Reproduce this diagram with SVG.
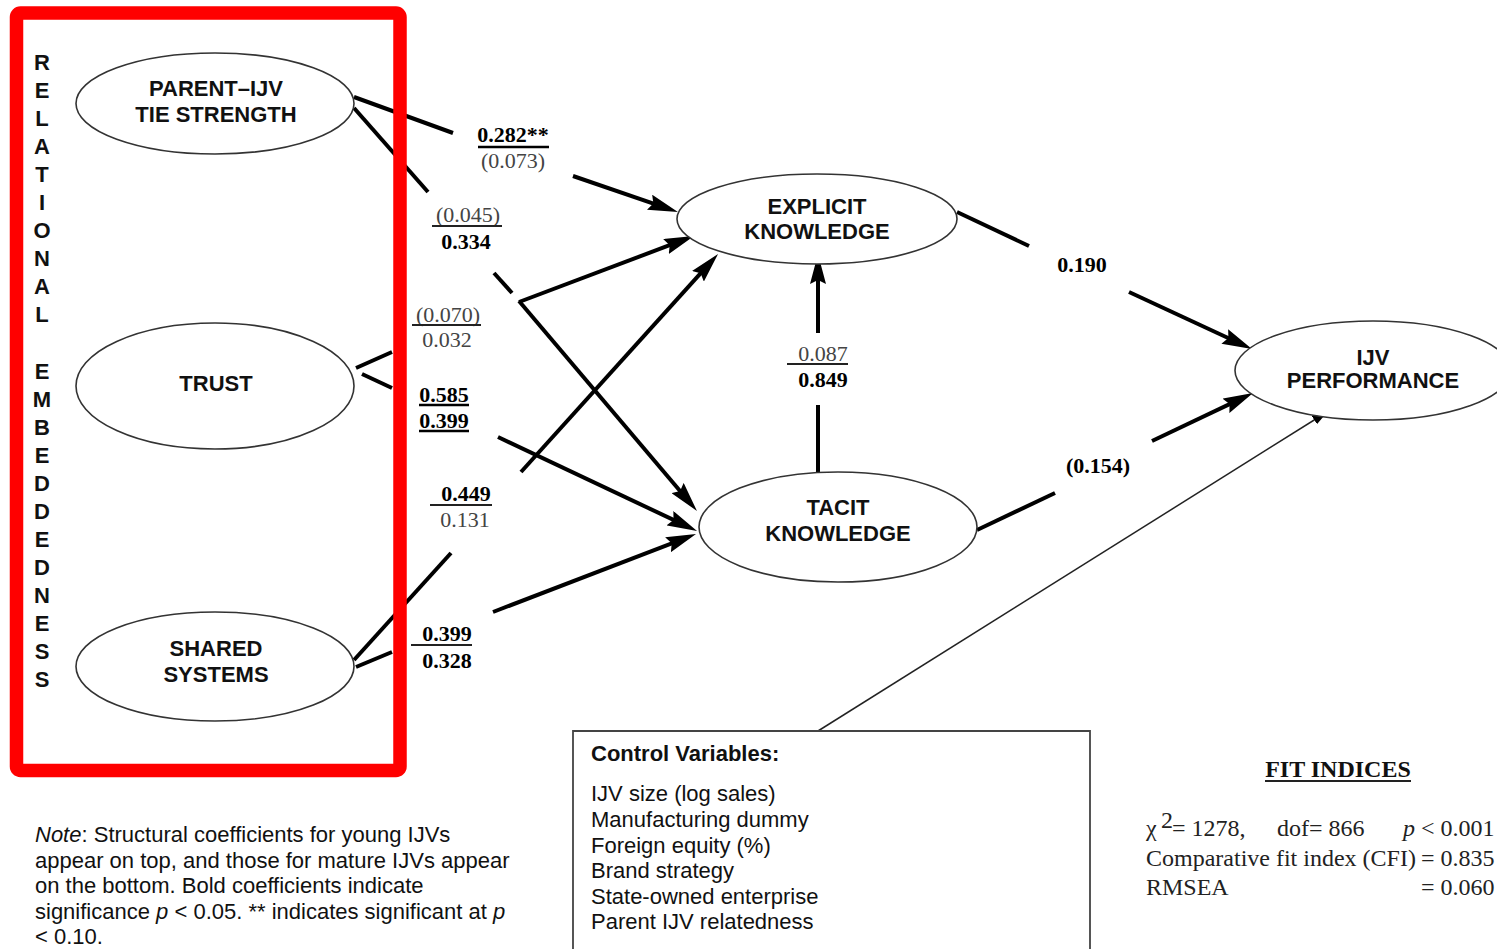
<svg xmlns="http://www.w3.org/2000/svg" width="1497" height="949" viewBox="0 0 1497 949">
<defs>
<marker id="arr" viewBox="0 0 30 16" markerWidth="30" markerHeight="16" markerUnits="userSpaceOnUse" refX="18" refY="8" orient="auto">
<path d="M0,0 L30,8 L0,16 L4,8 z" fill="#000"/>
</marker>
<marker id="arrS" viewBox="0 0 16 10" markerWidth="16" markerHeight="10" markerUnits="userSpaceOnUse" refX="15" refY="5" orient="auto">
<path d="M0,0 L16,5 L0,10 z" fill="#000"/>
</marker>
</defs>
<style>
.node ellipse{fill:#fff;stroke:#333;stroke-width:1.6}
.nt{font-family:"Liberation Sans",Arial,sans-serif;font-weight:bold;font-size:22px;fill:#111;text-anchor:middle}
.c{stroke:#000;stroke-width:4;fill:none}
.ca{stroke:#000;stroke-width:4;fill:none;marker-end:url(#arr)}
.thin{stroke:#222;stroke-width:1.5;fill:none;marker-end:url(#arrS)}
.num{font-family:"Liberation Serif","Times New Roman",serif;font-size:22px;fill:#444;text-anchor:middle}
.nb{font-family:"Liberation Serif","Times New Roman",serif;font-size:22px;font-weight:bold;fill:#000;text-anchor:middle}
.ul{stroke:#222;stroke-width:2}
.ulb{stroke:#000;stroke-width:2.6}
.sans{font-family:"Liberation Sans",Arial,sans-serif;font-size:22px;fill:#111}
.ser{font-family:"Liberation Serif","Times New Roman",serif;font-size:24px;fill:#222}
</style>
<rect width="1497" height="949" fill="#fff"/>

<g id="connectors">
<line class="c" x1="354" y1="97" x2="453" y2="133"/>
<line class="ca" x1="573" y1="176" x2="666.6" y2="208.1"/>
<line class="c" x1="354" y1="108" x2="428" y2="192"/>
<line class="c" x1="494" y1="273" x2="512" y2="293"/>
<line class="ca" x1="519" y1="301" x2="689.2" y2="501.8"/>
<line class="c" x1="356" y1="368" x2="392" y2="352"/>
<line class="ca" x1="519" y1="302" x2="682.8" y2="240.2"/>
<line class="c" x1="362" y1="374" x2="392" y2="388"/>
<line class="ca" x1="498" y1="437" x2="686.2" y2="525.9"/>
<line class="c" x1="354" y1="660" x2="451" y2="553"/>
<line class="ca" x1="521" y1="472" x2="710" y2="262.9"/>
<line class="c" x1="356" y1="667" x2="392" y2="652"/>
<line class="ca" x1="493" y1="612" x2="684.8" y2="538.3"/>
<line class="c" x1="818" y1="474" x2="818" y2="405"/>
<line class="ca" x1="818" y1="333" x2="818" y2="266"/>
<line class="c" x1="957" y1="212" x2="1029" y2="246"/>
<line class="ca" x1="1129" y1="292" x2="1241.1" y2="344"/>
<line class="c" x1="977" y1="530" x2="1055" y2="493"/>
<line class="ca" x1="1152" y1="441" x2="1242.2" y2="398.1"/>
<line class="thin" x1="818" y1="731" x2="1327" y2="412"/>
</g>

<g id="labels">
<text class="nb" x="513" y="142">0.282**</text>
<line class="ulb" x1="478" y1="147" x2="549" y2="147"/>
<text class="num" x="513" y="168">(0.073)</text>
<text class="num" x="468" y="222">(0.045)</text>
<line class="ul" x1="432" y1="226" x2="502" y2="226"/>
<text class="nb" x="466" y="249">0.334</text>
<text class="num" x="448" y="322">(0.070)</text>
<line class="ul" x1="412" y1="325" x2="481" y2="325"/>
<text class="num" x="447" y="347">0.032</text>
<text class="nb" x="444" y="402">0.585</text>
<line class="ulb" x1="419" y1="405" x2="469" y2="405"/>
<text class="nb" x="444" y="428">0.399</text>
<line class="ulb" x1="419" y1="431" x2="469" y2="431"/>
<text class="nb" x="466" y="501">0.449</text>
<line class="ul" x1="430" y1="505" x2="492" y2="505"/>
<text class="num" x="465" y="527">0.131</text>
<text class="nb" x="447" y="641">0.399</text>
<line class="ul" x1="411" y1="645" x2="472" y2="645"/>
<text class="nb" x="447" y="668">0.328</text>
<text class="num" x="823" y="361">0.087</text>
<line class="ul" x1="787" y1="364" x2="848" y2="364"/>
<text class="nb" x="823" y="387">0.849</text>
<text class="nb" x="1082" y="272">0.190</text>
<text class="nb" x="1098" y="473">(0.154)</text>
</g>

<g id="node-parent" class="node">
<ellipse cx="215" cy="103.5" rx="139" ry="50.5"/>
<text class="nt" x="216" y="96">PARENT–IJV</text>
<text class="nt" x="216" y="122">TIE STRENGTH</text>
</g>
<g id="node-trust" class="node">
<ellipse cx="215" cy="386" rx="139" ry="63"/>
<text class="nt" x="216" y="391">TRUST</text>
</g>
<g id="node-shared" class="node">
<ellipse cx="215" cy="666.5" rx="139" ry="54.5"/>
<text class="nt" x="216" y="656">SHARED</text>
<text class="nt" x="216" y="682">SYSTEMS</text>
</g>
<g id="node-explicit" class="node">
<ellipse cx="817" cy="219" rx="140" ry="45"/>
<text class="nt" x="817" y="214">EXPLICIT</text>
<text class="nt" x="817" y="239">KNOWLEDGE</text>
</g>
<g id="node-tacit" class="node">
<ellipse cx="838" cy="527" rx="139" ry="55"/>
<text class="nt" x="838" y="515">TACIT</text>
<text class="nt" x="838" y="541">KNOWLEDGE</text>
</g>
<g id="node-performance" class="node">
<ellipse cx="1373" cy="370.5" rx="138" ry="49.5"/>
<text class="nt" x="1373" y="365">IJV</text>
<text class="nt" x="1373" y="388">PERFORMANCE</text>
</g>

<g id="node-controls">
<path d="M573,949 V731 H1090 V949" fill="none" stroke="#444" stroke-width="1.8"/>
<text class="sans" x="591" y="761" font-weight="bold">Control Variables:</text>
<text class="sans" x="591" y="801">IJV size (log sales)</text>
<text class="sans" x="591" y="827">Manufacturing dummy</text>
<text class="sans" x="591" y="853">Foreign equity (%)</text>
<text class="sans" x="591" y="878">Brand strategy</text>
<text class="sans" x="591" y="904">State-owned enterprise</text>
<text class="sans" x="591" y="929">Parent IJV relatedness</text>
</g>

<g id="vertical-label">
<text class="nt" x="42" y="70"><tspan x="42" y="70">R</tspan><tspan x="42" y="98">E</tspan><tspan x="42" y="126">L</tspan><tspan x="42" y="154">A</tspan><tspan x="42" y="182">T</tspan><tspan x="42" y="210">I</tspan><tspan x="42" y="238">O</tspan><tspan x="42" y="266">N</tspan><tspan x="42" y="294">A</tspan><tspan x="42" y="322">L</tspan><tspan x="42" y="379">E</tspan><tspan x="42" y="407">M</tspan><tspan x="42" y="435">B</tspan><tspan x="42" y="463">E</tspan><tspan x="42" y="491">D</tspan><tspan x="42" y="519">D</tspan><tspan x="42" y="547">E</tspan><tspan x="42" y="575">D</tspan><tspan x="42" y="603">N</tspan><tspan x="42" y="631">E</tspan><tspan x="42" y="659">S</tspan><tspan x="42" y="687">S</tspan></text>
</g>

<g id="note" font-family="'Liberation Sans',Arial,sans-serif" font-size="22" fill="#111">
<text x="35" y="842"><tspan font-style="italic">Note</tspan>: Structural coefficients for young IJVs</text>
<text x="35" y="867.5">appear on top, and those for mature IJVs appear</text>
<text x="35" y="893">on the bottom. Bold coefficients indicate</text>
<text x="35" y="918.5">significance <tspan font-style="italic">p</tspan> &lt; 0.05.  ** indicates significant at <tspan font-style="italic">p</tspan></text>
<text x="35" y="944">&lt; 0.10.</text>
</g>

<g id="fit-indices">
<text x="1338" y="777" text-anchor="middle" font-family="'Liberation Serif','Times New Roman',serif" font-size="24" font-weight="bold" fill="#111">FIT INDICES</text>
<line class="ul" x1="1265" y1="781" x2="1411" y2="781"/>
<text class="ser" x="1146" y="836">χ</text>
<text class="ser" x="1161" y="828" font-size="12">2</text>
<text class="ser" x="1172" y="836">= 1278,</text>
<text class="ser" x="1277" y="836">dof= 866</text>
<text class="ser" x="1403" y="836"><tspan font-style="italic">p</tspan> &lt; 0.001</text>
<text class="ser" x="1146" y="866">Comparative fit index (CFI)</text>
<text class="ser" x="1421" y="866">= 0.835</text>
<text class="ser" x="1146" y="895">RMSEA</text>
<text class="ser" x="1421" y="895">= 0.060</text>
</g>

<rect x="16.5" y="13" width="383.5" height="757.5" rx="4" fill="none" stroke="#ff0000" stroke-width="13.5"/>
</svg>
